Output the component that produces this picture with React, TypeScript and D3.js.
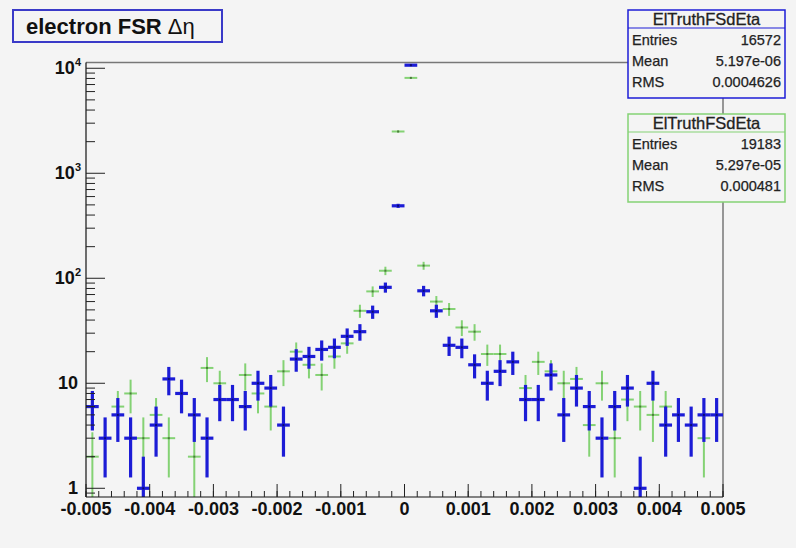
import React from "react";
import * as d3 from "d3";

const W = 796;
const H = 548;

const xMin = -0.005;
const xMax = 0.005;
const nBins = 50;

// bin contents (50 bins of width 0.0002 from -0.005 to 0.005)
const blueCounts = [
  6, 3, 5, 3, 1, 4, 11, 8, 5, 3,
  7, 7, 6, 10, 9, 4, 17, 18, 21, 22,
  28, 31, 48, 82, 490, 10700, 76, 49, 23, 22,
  15, 10, 13, 16, 7, 7, 12, 5, 9, 6,
  3, 6, 9, 1, 10, 4, 5, 4, 5, 5,
];
const greenCounts = [
  2, 0, 6, 8, 3, 5, 3, 0, 2, 14,
  10, 0, 12, 8, 6, 13, 20, 15, 12, 18,
  24, 49, 75, 118, 2500, 8100, 132, 60, 51, 34,
  31, 19, 19, 0, 9, 16, 13, 10, 11, 4,
  10, 3, 7, 6, 5, 6, 0, 0, 3, 0,
];

const xTickValues = [-0.005, -0.004, -0.003, -0.002, -0.001, 0, 0.001, 0.002, 0.003, 0.004, 0.005];
const xTickLabels = ["-0.005", "-0.004", "-0.003", "-0.002", "-0.001", "0", "0.001", "0.002", "0.003", "0.004", "0.005"];
const yTickValues = [1, 10, 100, 1000, 10000];
const yTickBase = ["1", "10", "10", "10", "10"];
const yTickExp = ["", "", "2", "3", "4"];

const statsBlue = { name: "ElTruthFSdEta", rows: [["Entries", "16572"], ["Mean", "5.197e-06"], ["RMS", "0.0004626"]] };
const statsGreen = { name: "ElTruthFSdEta", rows: [["Entries", "19183"], ["Mean", "5.297e-05"], ["RMS", "0.000481"]] };

const FONT = "'Liberation Sans', Arial, Helvetica, sans-serif";
const BG = "#f4f4f4";
const BLUE = "#1c1cd6";
const GREEN = "#84d274";

const frame = { left: 86, right: 723, top: 62.5, bottom: 497 };

const x = d3.scaleLinear().domain([xMin, xMax]).range([frame.left, frame.right]);
const yMin = 0.826;
const yMax = 11350;
const y = d3.scaleLog().domain([yMin, yMax]).range([frame.bottom, frame.top]);

const binW = (xMax - xMin) / nBins;

function Series({ counts, color, width, dot }: { counts: number[]; color: string; width: number; dot: string }) {
  return (
    <g>
      {counts.map((v, i) => {
        if (v <= 0) return null;
        const lo = xMin + i * binW;
        const hi = lo + binW;
        const c = lo + binW / 2;
        const e = Math.sqrt(v);
        const top = Math.min(v + e, yMax);
        const bot = Math.max(v - e, yMin);
        return (
          <g key={i}>
            <line x1={x(c)} x2={x(c)} y1={y(top)} y2={y(bot)} stroke={color} strokeWidth={width} />
            <line x1={x(lo)} x2={x(hi)} y1={y(v)} y2={y(v)} stroke={color} strokeWidth={width} />
            <rect x={x(c) - 1} y={y(v) - 1} width={2} height={2} fill={dot} />
          </g>
        );
      })}
    </g>
  );
}

function StatsBox({ top, stats, color }: { top: number; stats: typeof statsBlue; color: string }) {
  const left = 628;
  const right = 785;
  const titleH = 18;
  const rowH = 21;
  const h = titleH + rowH * 3 + 7;
  return (
    <g fontFamily={FONT}>
      <rect x={left} y={top} width={right - left} height={h} fill={BG} stroke={color} strokeWidth={1.5} />
      <line x1={left} x2={right} y1={top + titleH} y2={top + titleH} stroke={color} strokeWidth={1} />
      <text x={(left + right) / 2} y={top + titleH / 2 + 6} textAnchor="middle" fontSize={16.5} fill="#222" stroke="#222" strokeWidth={0.3}>
        {stats.name}
      </text>
      {stats.rows.map((r, i) => (
        <g key={i}>
          <text x={left + 4} y={top + titleH + rowH * i + 17} fontSize={14.5} fill="#222" stroke="#222" strokeWidth={0.25}>{r[0]}</text>
          <text x={right - 4} y={top + titleH + rowH * i + 17} fontSize={14.5} textAnchor="end" fill="#222" stroke="#222" strokeWidth={0.25}>{r[1]}</text>
        </g>
      ))}
    </g>
  );
}

export default function App() {
  const majorX = xTickValues;
  const minorX = d3.range(0, nBins + 1).map((i) => xMin + i * binW);
  const minorY: number[] = [];
  for (let d = -1; d <= 4; d++) {
    for (let k = 2; k <= 9; k++) {
      const v = k * Math.pow(10, d);
      if (v > yMin && v < yMax) minorY.push(v);
    }
  }
  return (
    <svg width={W} height={H} style={{ position: "fixed", left: 0, top: 0 }} fontFamily={FONT}>
      <rect x={0} y={0} width={W} height={H} fill={BG} />
      {/* frame */}
      <line x1={frame.left} x2={frame.right} y1={frame.top} y2={frame.top} stroke="#777" strokeWidth={1.5} />
      <line x1={frame.right} x2={frame.right} y1={frame.top} y2={frame.bottom} stroke="#777" strokeWidth={1.5} />

      <Series counts={greenCounts} color={GREEN} width={2} dot="#4c7a3c" />
      <Series counts={blueCounts} color={BLUE} width={3.2} dot="#0a0a70" />

      {/* axes */}
      <line x1={frame.left} x2={frame.right} y1={frame.bottom} y2={frame.bottom} stroke="#111" strokeWidth={1.2} />
      <line x1={frame.left} x2={frame.left} y1={frame.top} y2={frame.bottom} stroke="#111" strokeWidth={1.2} />
      {minorX.map((v, i) => (
        <line key={"mx" + i} x1={x(v)} x2={x(v)} y1={frame.bottom} y2={frame.bottom - 6} stroke="#222" strokeWidth={1} />
      ))}
      {majorX.map((v, i) => (
        <line key={"Mx" + i} x1={x(v)} x2={x(v)} y1={frame.bottom} y2={frame.bottom - 13} stroke="#222" strokeWidth={1} />
      ))}
      {xTickLabels.map((t, i) => (
        <text key={"lx" + i} x={x(xTickValues[i])} y={515} textAnchor="middle" fontSize={18} fontWeight="bold" fill="#111">
          {t}
        </text>
      ))}
      {minorY.map((v, i) => (
        <line key={"my" + i} x1={frame.left} x2={frame.left + 9} y1={y(v)} y2={y(v)} stroke="#222" strokeWidth={1} />
      ))}
      {yTickValues.map((v, i) => (
        <line key={"My" + i} x1={frame.left} x2={frame.left + 19} y1={y(v)} y2={y(v)} stroke="#222" strokeWidth={1} />
      ))}
      {yTickValues.map((v, i) => (
        <text key={"ly" + i} x={yTickExp[i] ? 81 : 78} y={y(v) + 6} textAnchor="end" fontSize={18} fontWeight="bold" fill="#111">
          {yTickBase[i]}
          {yTickExp[i] ? (
            <tspan fontSize={11} dy={-8}>{yTickExp[i]}</tspan>
          ) : null}
        </text>
      ))}

      {/* title */}
      <rect x={13} y={10} width={209} height={32} fill={BG} stroke="#3a3ac8" strokeWidth={2} />
      <text x={26} y={34} fontSize={22} fontWeight="bold" fill="#111">
        electron FSR <tspan fontWeight="normal" fontSize={22}>Δη</tspan>
      </text>

      <StatsBox top={10} stats={statsBlue} color={BLUE} />
      <StatsBox top={114} stats={statsGreen} color={GREEN} />
    </svg>
  );
}
